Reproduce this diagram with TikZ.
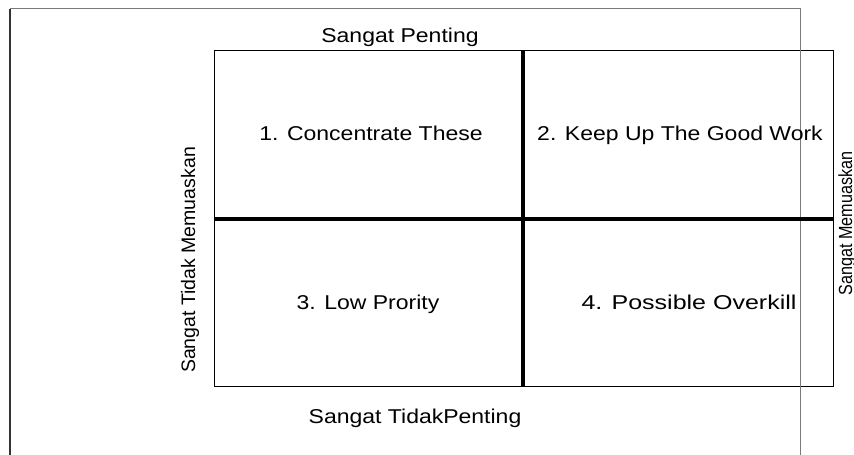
\documentclass[tikz,border=0pt]{standalone}
\usepackage{fontspec}
\newfontfamily\hfont[FakeStretch=1.15]{Liberation Sans}
\newfontfamily\wfont[FakeStretch=1.25]{Liberation Sans}
\newfontfamily\vfont{Liberation Sans}
\newfontfamily\rfont[FakeStretch=0.85]{Liberation Sans}
\begin{document}
\begin{tikzpicture}[x=1pt,y=-1pt,
  htext/.style={inner sep=0pt, anchor=base, font=\hfont\fontsize{20}{24}\selectfont},
  wtext/.style={inner sep=0pt, anchor=base, font=\wfont\fontsize{20}{24}\selectfont},
  vtext/.style={inner sep=0pt, anchor=base, rotate=90, font=\vfont\fontsize{19.5}{23}\selectfont},
  rtext/.style={inner sep=0pt, anchor=base, rotate=90, font=\rfont\fontsize{19}{23}\selectfont},
  frameline/.style={line width=1.5pt, draw=black!52},
  gridline/.style={line width=1pt, draw=black},
  axisline/.style={line width=4pt, draw=black}]
\useasboundingbox (0,0) rectangle (854,455);
\clip (0,0) rectangle (854,455);
% outer frame
\coordinate (oTL) at (10,8.5);
\coordinate (oTR) at (800.5,8.5);
\coordinate (oBL) at (10,470);
\coordinate (oBR) at (800.5,470);
% inner grid
\coordinate (gTL) at (214.5,50.5);
\coordinate (gTR) at (833.5,50.5);
\coordinate (gBL) at (214.5,386.5);
\coordinate (gBR) at (833.5,386.5);
\coordinate (vT) at (523.3,50.5);
\coordinate (vB) at (523.3,386.5);
\coordinate (hL) at (214.5,218.7);
\coordinate (hR) at (833.5,218.7);
\draw[gridline] (gTL) -- (gTR) -- (gBR) -- (gBL) -- cycle;
\draw[frameline] (oBR) -- (oTR) -- (oTL);
\draw[line width=1.5pt, draw=black!80] (oTL) -- (oBL);
\draw[axisline] (vT) -- (vB);
\draw[axisline] (hL) -- (hR);
% labels
\node[htext] (top) at (400,42) {Sangat Penting};
\node[htext] (q1) at (371,140) {1. Concentrate These};
\node[htext] (q2) at (680,140) {2. Keep Up The Good Work};
\node[htext] (q3) at (368,309) {3. Low Prority};
\node[wtext] (q4) at (689,309) {4. Possible Overkill};
\node[htext] (bottom) at (415,423) {Sangat TidakPenting};
\node[vtext] (left) at (195,260) {Sangat Tidak Memuaskan};
\node[rtext] (right) at (852,223.5) {Sangat Memuaskan};
\end{tikzpicture}
\end{document}
